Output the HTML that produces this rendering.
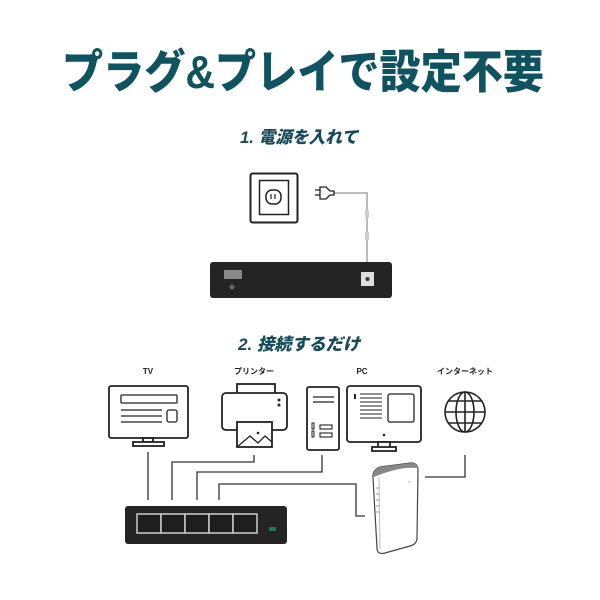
<!DOCTYPE html>
<html><head><meta charset="utf-8"><style>
html,body{margin:0;padding:0;background:#fff;}
svg{display:block}
text{font-family:"Liberation Sans","Noto Sans CJK JP",sans-serif;}
</style></head><body>
<svg width="600" height="600" viewBox="0 0 600 600" xmlns="http://www.w3.org/2000/svg">
<text x="303" y="88" text-anchor="middle" font-size="46" font-weight="900" fill="#0f5361" textLength="482" lengthAdjust="spacingAndGlyphs">プラグ&amp;プレイで設定不要</text>
<text x="299" y="143" text-anchor="middle" font-size="17" font-weight="900" font-style="italic" fill="#174a5a" textLength="118" lengthAdjust="spacingAndGlyphs">1. 電源を入れて</text>
<text x="299" y="350" text-anchor="middle" font-size="17" font-weight="900" font-style="italic" fill="#174a5a" textLength="122" lengthAdjust="spacingAndGlyphs">2. 接続するだけ</text>

<!-- outlet -->
<rect x="250.5" y="173.5" width="47" height="49" rx="2" fill="#fff" stroke="#222" stroke-width="2"/>
<rect x="259.5" y="180.5" width="29" height="34" fill="#fff" stroke="#222" stroke-width="1.5"/>
<rect x="266" y="190" width="15" height="14" rx="6" fill="#fff" stroke="#222" stroke-width="1.5"/>
<line x1="271" y1="194" x2="271" y2="199" stroke="#222" stroke-width="1.2"/>
<line x1="275" y1="194" x2="275" y2="199" stroke="#222" stroke-width="1.2"/>
<!-- plug & cord -->
<path d="M333 193 H367 V262" fill="none" stroke="#bbb" stroke-width="2"/>
<rect x="365" y="210" width="4" height="8" fill="#ccc"/>
<rect x="365" y="232" width="4" height="8" fill="#ccc"/>
<path d="M320 187 h6 l4 4 h4 v4 h-4 l-4 4 h-6 z" fill="#fff" stroke="#222" stroke-width="1.3"/>
<line x1="315" y1="190" x2="320" y2="190" stroke="#222" stroke-width="1.3"/>
<line x1="315" y1="195" x2="320" y2="195" stroke="#222" stroke-width="1.3"/>
<!-- device -->
<rect x="210" y="262" width="182" height="36" rx="3" fill="#242424"/>
<rect x="224" y="270" width="18" height="9" fill="#888"/>
<circle cx="232" cy="287" r="2.5" fill="#666"/>
<rect x="361" y="272" width="13" height="14" fill="#ddd"/>
<circle cx="367.5" cy="279" r="2" fill="#333"/>

<!-- labels -->
<text x="148" y="374" text-anchor="middle" font-size="8" font-weight="bold" fill="#222">TV</text>
<text x="254" y="374" text-anchor="middle" font-size="8" font-weight="bold" fill="#222">プリンター</text>
<text x="362" y="374" text-anchor="middle" font-size="8" font-weight="bold" fill="#222">PC</text>
<text x="465" y="374" text-anchor="middle" font-size="8" font-weight="bold" fill="#222">インターネット</text>

<g fill="#fff" stroke="#222" stroke-width="1.8">
<!-- TV -->
<rect x="109" y="386" width="79" height="52" rx="2"/>
<rect x="121" y="395" width="56" height="8" rx="1" stroke-width="1.3"/>
<rect x="167" y="410" width="10" height="12" rx="2" stroke-width="1.3"/>
<line x1="121" y1="410" x2="162" y2="410" stroke-width="1.2"/>
<line x1="121" y1="416" x2="162" y2="416" stroke-width="1.2"/>
<line x1="121" y1="422" x2="162" y2="422" stroke-width="1.2"/>
<rect x="143" y="438" width="10" height="4"/>
<rect x="133" y="442" width="31" height="4"/>
<!-- printer -->
<rect x="237" y="384" width="38" height="10"/>
<rect x="222" y="393" width="65" height="37" rx="4"/>
<rect x="237" y="422" width="35" height="25"/>
<path d="M237 447 L250 436 L258 443 L265 436 L272 442" stroke-width="1.3" fill="none"/>
<!-- tower -->
<rect x="307" y="387" width="32" height="63" rx="2"/>
<line x1="313" y1="397" x2="334" y2="397" stroke-width="1.2"/>
<line x1="313" y1="402" x2="334" y2="402" stroke-width="1.2"/>
<rect x="320" y="425" width="12" height="4" stroke-width="1.1"/>
<rect x="320" y="433" width="12" height="4" stroke-width="1.1"/>
<rect x="312" y="423" width="2" height="6" stroke-width="1"/>
<rect x="312" y="431" width="2" height="6" stroke-width="1"/>
<!-- monitor -->
<rect x="347" y="386" width="74" height="56" rx="3"/>
<rect x="388" y="394" width="26" height="28" rx="2" stroke-width="1.3"/>
<rect x="378" y="442" width="12" height="6"/>
<rect x="372" y="447" width="24" height="4"/>
</g>
<circle cx="279" cy="400" r="1.5" fill="#222"/>
<circle cx="279" cy="405" r="1.5" fill="#222"/>
<circle cx="258" cy="433" r="1.3" fill="#222"/>
<circle cx="384" cy="435" r="1.3" fill="#222"/>
<g stroke="#222" stroke-width="1.1">
<line x1="360" y1="394" x2="382" y2="394"/><line x1="360" y1="398" x2="382" y2="398"/>
<line x1="360" y1="402" x2="382" y2="402"/><line x1="360" y1="406" x2="382" y2="406"/>
<line x1="360" y1="410" x2="382" y2="410"/><line x1="360" y1="414" x2="382" y2="414"/>
<line x1="360" y1="418" x2="382" y2="418"/>
</g>
<rect x="354" y="394" width="2" height="5" fill="#222"/>
<!-- globe -->
<g fill="none" stroke="#222" stroke-width="1.6">
<circle cx="465" cy="412" r="20"/>
<ellipse cx="465" cy="412" rx="9" ry="20"/>
<line x1="465" y1="392" x2="465" y2="432"/>
<line x1="445" y1="412" x2="485" y2="412"/>
<path d="M448 401 H482 M448 423 H482"/>
</g>

<!-- connectors -->
<g fill="none" stroke="#333" stroke-width="1.3">
<path d="M148 452 V500"/>
<path d="M254 455 V462 H172 V500"/>
<path d="M322 455 V472 H197 V500"/>
<path d="M219 500 V484 H356 V516 H365"/>
<path d="M465 455 V477 H425"/>
</g>

<!-- switch -->
<rect x="125" y="506" width="162" height="38" rx="3" fill="#242424"/>
<g fill="#1e1e1e" stroke="#ccc" stroke-width="1.5">
<rect x="137" y="514" width="24" height="19"/>
<rect x="161" y="514" width="24" height="19"/>
<rect x="185" y="514" width="24" height="19"/>
<rect x="209" y="514" width="24" height="19"/>
<rect x="233" y="514" width="24" height="19"/>
</g>
<rect x="269" y="527" width="7" height="4" rx="1" fill="#1a7a5a"/>

<!-- router -->
<path d="M373 478 Q372 470 380 467 L411 463 Q418 463 418 470 L417 538 Q417 544 410 546 L385 553 Q377 555 377 548 Z" fill="#fff" stroke="#444" stroke-width="1.2"/>
<path d="M373 478 Q372 470 380 467 L411 463 Q418 463 418 468 Q400 466 374 477 Z" fill="#888"/>
<line x1="379" y1="477" x2="380" y2="549" stroke="#bbb" stroke-width="1"/>
<g stroke="#999" stroke-width="1"><line x1="376" y1="488" x2="379" y2="488"/><line x1="376" y1="494" x2="379" y2="494"/><line x1="376" y1="500" x2="379" y2="500"/><line x1="376" y1="506" x2="379" y2="506"/><line x1="376" y1="512" x2="379" y2="512"/></g>
<text x="408" y="483" font-size="4" fill="#bbb">tp</text>
</svg>
</body></html>
